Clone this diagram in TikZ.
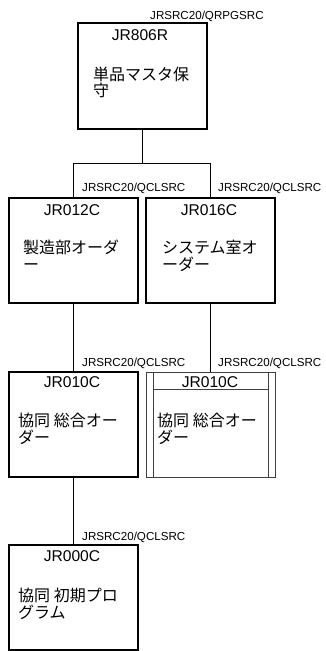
\documentclass[tikz,border=0pt]{standalone}
\usepackage{fontspec}
\setmainfont{Liberation Sans}
\newfontfamily\jp{Noto Sans CJK JP}
\usetikzlibrary{calc}
\begin{document}
\begin{tikzpicture}[x=1pt,y=-1pt,
  box/.style={draw, line width=1.8pt, minimum width=129pt, minimum height=105pt, inner sep=0pt, outer sep=0pt, anchor=north west},
  thinbox/.style={draw=black!75, line width=0.8pt, minimum width=129pt, minimum height=105pt, inner sep=0pt, outer sep=0pt, anchor=north west},
  conn/.style={draw, line width=0.8pt},
  tit/.style={font=\fontsize{15.6}{19}\selectfont, inner sep=0pt, anchor=base},
  jpt/.style={font=\jp\fontsize{16}{19}\selectfont, inner sep=0pt, anchor=west, text height=14.08pt, text depth=1.92pt},
  lab/.style={font=\fontsize{11.6}{14}\selectfont, inner sep=0pt, anchor=base west}]
\useasboundingbox (0,0) rectangle (326,651);

% boxes
\node[box, minimum height=106pt] (b1) at (78,23) {};
\node[box] (b2) at (9,198) {};
\node[box] (b3) at (146,198) {};
\node[box] (b4) at (9,372) {};
\node[thinbox] (b5) at (146,372) {};
\node[box] (b6) at (9,545) {};

% inner lines of b5
\draw[draw=black!75, line width=0.8pt] ($(b5.north west)+(7,0)$) -- ($(b5.south west)+(7,0)$);
\draw[draw=black!75, line width=0.8pt] ($(b5.north east)+(-7,0)$) -- ($(b5.south east)+(-7,0)$);
\draw[draw=black!75, line width=0.8pt] ($(b5.north west)+(7,17)$) -- ($(b5.north east)+(-7,17)$);

% connectors
\coordinate (j1) at ($(b1.south)+(0,34)$);
\draw[conn] (b1.south) -- (j1);
\draw[conn] (j1) -| (b2.north);
\draw[conn] (j1) -| (b3.north);
\draw[conn] (b2.south) -- (b4.north);
\draw[conn] (b3.south) -- (b5.north);
\draw[conn] (b4.south) -- (b6.north);

% labels
\node[lab] (l1) at (150,19) {JRSRC20/QRPGSRC};
\node[lab] (l2) at (82,191.5) {JRSRC20/QCLSRC};
\node[lab] (l3) at (218,191.5) {JRSRC20/QCLSRC};
\node[lab] (l4) at (82,366.5) {JRSRC20/QCLSRC};
\node[lab] (l5) at (218,366.5) {JRSRC20/QCLSRC};
\node[lab] (l6) at (82,540) {JRSRC20/QCLSRC};

% titles
\node[tit] (t1) at (140,40.5) {JR806R};
\node[tit] (t2) at (72,215) {JR012C};
\node[tit] (t3) at (209,215) {JR016C};
\node[tit] (t4) at (72,387) {JR010C};
\node[tit] (t5) at (210,387.5) {JR010C};
\node[tit] (t6) at (72,561) {JR000C};

% japanese text
\node[jpt] (a1) at (93,74) {単品マスタ保};
\node[jpt] (a2) at (93,90.5) {守};
\node[jpt] (c1) at (23,247.5) {製造部オーダ};
\node[jpt] (c2) at (23,264) {ー};
\node[jpt] (d1) at (162,247.5) {システム室オ};
\node[jpt] (d2) at (162,264) {ーダー};
\node[jpt] (e1) at (18,420) {協同 総合オー};
\node[jpt] (e2) at (18,437) {ダー};
\node[jpt] (f1) at (157,420) {協同 総合オー};
\node[jpt] (f2) at (157,437) {ダー};
\node[jpt] (g1) at (18,595) {協同 初期プロ};
\node[jpt] (g2) at (18,612) {グラム};
\end{tikzpicture}
\end{document}
